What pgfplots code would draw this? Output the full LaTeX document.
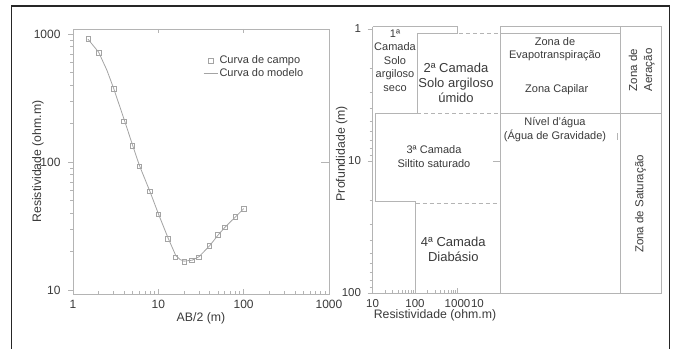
\documentclass[border=0pt]{standalone}
\usepackage{fontspec}
\setmainfont{Liberation Sans}
\usepackage{pgfplots}
\pgfplotsset{compat=1.18}
\definecolor{axgray}{HTML}{B4B4B4}
\definecolor{txt}{HTML}{3A3A3A}
\definecolor{crv}{HTML}{A4A4A4}
\begin{document}
\begin{tikzpicture}[x=1pt,y=1pt]
% ---------------- left plot ----------------
\begin{axis}[
  at={(73pt,54pt)}, anchor=south west,
  scale only axis, width=256pt, height=265pt,
  xmode=log, ymode=log,
  xmin=1, xmax=1000, ymin=9.305, ymax=1094,
  axis line style={axgray, line width=0.8pt},
  xtick={1,10,100,1000}, xticklabels={1,10,100,1000},
  ytick={10,100,1000}, yticklabels={10,100,1000},
  xtick pos=bottom, ytick pos=left,
  xtick align=inside, ytick align=outside,
  major tick length=5pt, minor tick length=3pt,
  every tick/.style={axgray, line width=0.6pt},
  ticklabel style={font=\fontsize{12}{14}\selectfont, text=txt},
  xticklabel style={yshift=-2.5pt},
  yticklabel style={xshift=-4pt},
  xlabel={AB/2 (m)}, ylabel={Resistividade (ohm.m)},
  label style={font=\fontsize{12.3}{14}\selectfont, text=txt},
  xlabel style={at={(axis description cs:0.5,-0.09)}, anchor=center},
  ylabel style={at={(axis description cs:-0.137,0.5)}, anchor=center},
  clip=false,
  legend image code/.code={\draw[mark repeat=2,mark phase=2,#1] plot coordinates {(0pt,0pt) (7pt,0pt) (14pt,0pt)};},
  legend style={draw=none, fill=none, at={(axis description cs:0.508,0.905)}, anchor=north west,
    inner sep=0pt, row sep=0pt, font=\fontsize{11}{13}\selectfont, text=txt,
    nodes={inner sep=1.5pt}},
  legend cell align=left,
  reverse legend,
]
\addplot[crv, line width=0.8pt] coordinates {
 (1.5,910) (2,720) (2.5,520) (3,375) (4,212) (5,135) (6,94) (8,58.5) (10,39.5)
 (13,25.5) (16,18.6) (18,17.3) (20,16.8) (25,17.1) (30,18.2) (40,22.2) (50,26.8)
 (60,30.8) (80,37.2) (100,43.2)};
\addlegendentry{Curva do modelo}
\addplot[only marks, mark=square, mark size=2.2pt, mark options={draw=crv, fill=white, line width=0.6pt}] coordinates {
 (1.51,914) (2.0,714) (3.01,374) (3.96,209) (4.97,134) (6.0,93) (7.94,59.3) (10,39)
 (12.9,25.2) (15.9,18.1) (20,16.6) (24.8,17.1) (29.7,18.1) (39.6,22.2) (49.7,26.9)
 (60.1,30.9) (79.4,37.2) (100,43.2)};
\addlegendentry{Curva de campo}
% top / right small ticks
\addplot[axgray, line width=0.6pt, forget plot] coordinates {(10,1094) (10,1018)};
\addplot[axgray, line width=0.6pt, forget plot] coordinates {(100,1094) (100,1018)};
\addplot[axgray, line width=0.6pt, forget plot] coordinates {(1000,100) (806,100)};
\end{axis}
% ---------------- right plot: resistivity part ----------------
\begin{axis}[
  at={(372.5pt,55pt)}, anchor=south west,
  scale only axis, width=127.5pt, height=266.3pt,
  xmode=log, ymode=log, y dir=reverse,
  xmin=10, xmax=10000, ymin=0.961, ymax=100,
  axis x line*=bottom, axis y line*=box,
  axis line style={axgray, line width=0.8pt},
  xtick={10,100,1000}, xticklabels={10,100,1000},
  extra x ticks={2950}, extra x tick labels={10},
  extra x tick style={major tick length=0pt},
  ytick={1,10,100}, yticklabels={1,10,100},
  xtick pos=bottom, ytick pos=left,
  xtick align=inside, ytick align=outside,
  major tick length=5pt, minor tick length=3pt,
  every tick/.style={axgray, line width=0.6pt},
  ticklabel style={font=\fontsize{11.5}{14}\selectfont, text=txt},
  xticklabel style={yshift=-2.5pt},
  yticklabel style={xshift=-3pt},
  xlabel={Resistividade (ohm.m)}, ylabel={Profundidade (m)},
  label style={font=\fontsize{12.3}{14}\selectfont, text=txt},
  xlabel style={at={(axis description cs:0.49,-0.083)}, anchor=center},
  ylabel style={at={(axis description cs:-0.2416,0.523)}, anchor=center},
  clip=false,
]
\addplot[axgray, line width=0.8pt] coordinates {(10,0.961) (1020,0.961)};
\addplot[axgray, line width=0.8pt] coordinates {(1020,0.961) (1020,1.078) (113,1.078) (113,4.35) (11.9,4.35) (11.9,20.3) (104,20.3) (104,100)};
\addplot[axgray, line width=0.8pt, dash pattern=on 4pt off 3pt] coordinates {(1080,1.078) (10000,1.078)};
\addplot[axgray, line width=0.8pt, dash pattern=on 4pt off 3pt] coordinates {(113,4.35) (10000,4.35)};
\addplot[axgray, line width=0.8pt, dash pattern=on 4pt off 3pt] coordinates {(104,20.9) (10000,20.9)};
\addplot[axgray, line width=0.6pt] coordinates {(6840,10) (10000,10)};
\end{axis}
% ---------------- right plot: zones part ----------------
\begin{axis}[
  at={(500pt,55pt)}, anchor=south west,
  scale only axis, width=161pt, height=266.3pt,
  xmin=500, xmax=661, ymin=26.7, ymax=293, y dir=reverse,
  axis line style={axgray, line width=0.8pt},
  xtick=\empty, ytick=\empty, clip=false,
]
\addplot[axgray, line width=0.8pt] coordinates {(500,33.3) (620,33.3)};
\addplot[axgray, line width=0.8pt] coordinates {(500,113.3) (661,113.3)};
\addplot[axgray, line width=0.8pt] coordinates {(620,26.7) (620,293)};
\addplot[axgray, line width=0.6pt] coordinates {(617,133) (617,140)};
\node[font=\fontsize{11}{13.5}\selectfont, text=txt, align=center] at (axis cs:395,60.5) {1ª\\Camada\\Solo\\argiloso\\seco};
\node[font=\fontsize{13}{15}\selectfont, text=txt, align=center] at (axis cs:456,83.3) {2ª Camada\\Solo argiloso\\úmido};
\node[font=\fontsize{11}{13.3}\selectfont, text=txt, align=center] at (axis cs:434,156.7) {3ª Camada\\Siltito saturado};
\node[font=\fontsize{13}{15}\selectfont, text=txt, align=center] at (axis cs:453.3,249.8) {4ª Camada\\Diabásio};
\node[font=\fontsize{11}{13.4}\selectfont, text=txt, align=center] at (axis cs:555,49) {Zona de\\Evapotranspiração};
\node[font=\fontsize{11}{13.4}\selectfont, text=txt, align=center] at (axis cs:556.7,89.3) {Zona Capilar};
\node[font=\fontsize{11}{14.4}\selectfont, text=txt, align=center] at (axis cs:555,129.5) {Nível d’água\\(Água de Gravidade)};
\node[font=\fontsize{11.5}{15}\selectfont, text=txt, align=center, rotate=90] at (axis cs:641.7,70) {Zona de\\Aeração};
\node[font=\fontsize{11.5}{14}\selectfont, text=txt, align=center, rotate=90] at (axis cs:640.5,204) {Zona de Saturação};
\end{axis}
% outer frame
\draw[line width=1.5pt, black!85] (11.5,-20) -- (11.5,342) -- (669.5,342) -- (669.5,-20);
\pgfresetboundingbox
\useasboundingbox (0,0) rectangle (677,348);
\end{tikzpicture}
\end{document}
